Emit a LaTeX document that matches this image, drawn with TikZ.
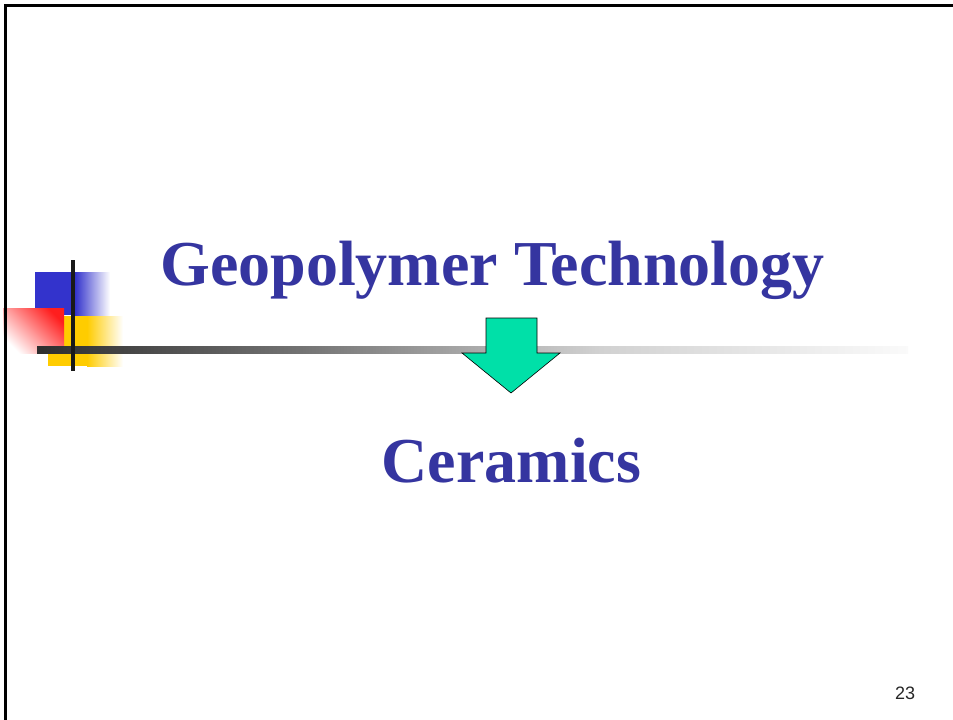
\documentclass[tikz,border=0pt]{standalone}
\usepackage{fontspec}
\setmainfont{Liberation Serif}
\newfontfamily\pgnumfont{Liberation Sans}
\definecolor{titleblue}{RGB}{53,53,160}
\definecolor{mint}{RGB}{0,224,168}
\definecolor{deco blue}{RGB}{51,51,204}
\definecolor{deco red}{RGB}{255,30,30}
\definecolor{deco yellow}{RGB}{255,204,0}
\begin{document}
\begin{tikzpicture}[x=1pt,y=-1pt,
  titletext/.style={text=titleblue,font=\fontsize{64}{64}\selectfont\bfseries,inner sep=0pt,anchor=base},
  pagenum/.style={text=black!85,font=\pgnumfont\fontsize{18}{18}\selectfont,inner sep=0pt,anchor=base},
  framerule/.style={line width=2.5pt,black}]
\useasboundingbox (0,0) rectangle (953,720);
\fill[white] (0,0) rectangle (953,720);
% decoration
\fill[deco blue] (35,272) rectangle (75,315);
\shade[left color=deco blue,right color=white] (75,272) rectangle (110,315);
\fill[deco yellow] (48,316) rectangle (87,366);
\shade[left color=deco yellow,right color=white] (87,316) rectangle (123,366);
\shade[top color=deco red,middle color=deco red!40,bottom color=white,shading angle=-45] (3,308) rectangle (64,353);
% horizontal bar
\shade[left color=black!82,right color=black!55] (37,346) rectangle (300,353);
\shade[left color=black!55,right color=black!18] (300,346) rectangle (600,353);
\shade[left color=black!18,right color=black!2] (600,346) rectangle (908,353);
% vertical bar
\fill[black!90] (71,260) rectangle (75,371);
% frame
\draw[framerule] (5.5,720) -- (5.5,5.5) -- (953,5.5);
% block arrow
\draw[fill=mint,draw=black,line width=0.6pt,line join=miter]
  (486,318) -- (537,318) -- (537,353) -- (560,353) -- (511,393) -- (462,353) -- (486,353) -- cycle;
% texts
\node[titletext] (title) at (492.5,285) {Geopolymer Technology};
\node[titletext] (ceramics) at (511.5,482) {Ceramics};
\node[pagenum] (page) at (905,699) {23};
\end{tikzpicture}
\end{document}
